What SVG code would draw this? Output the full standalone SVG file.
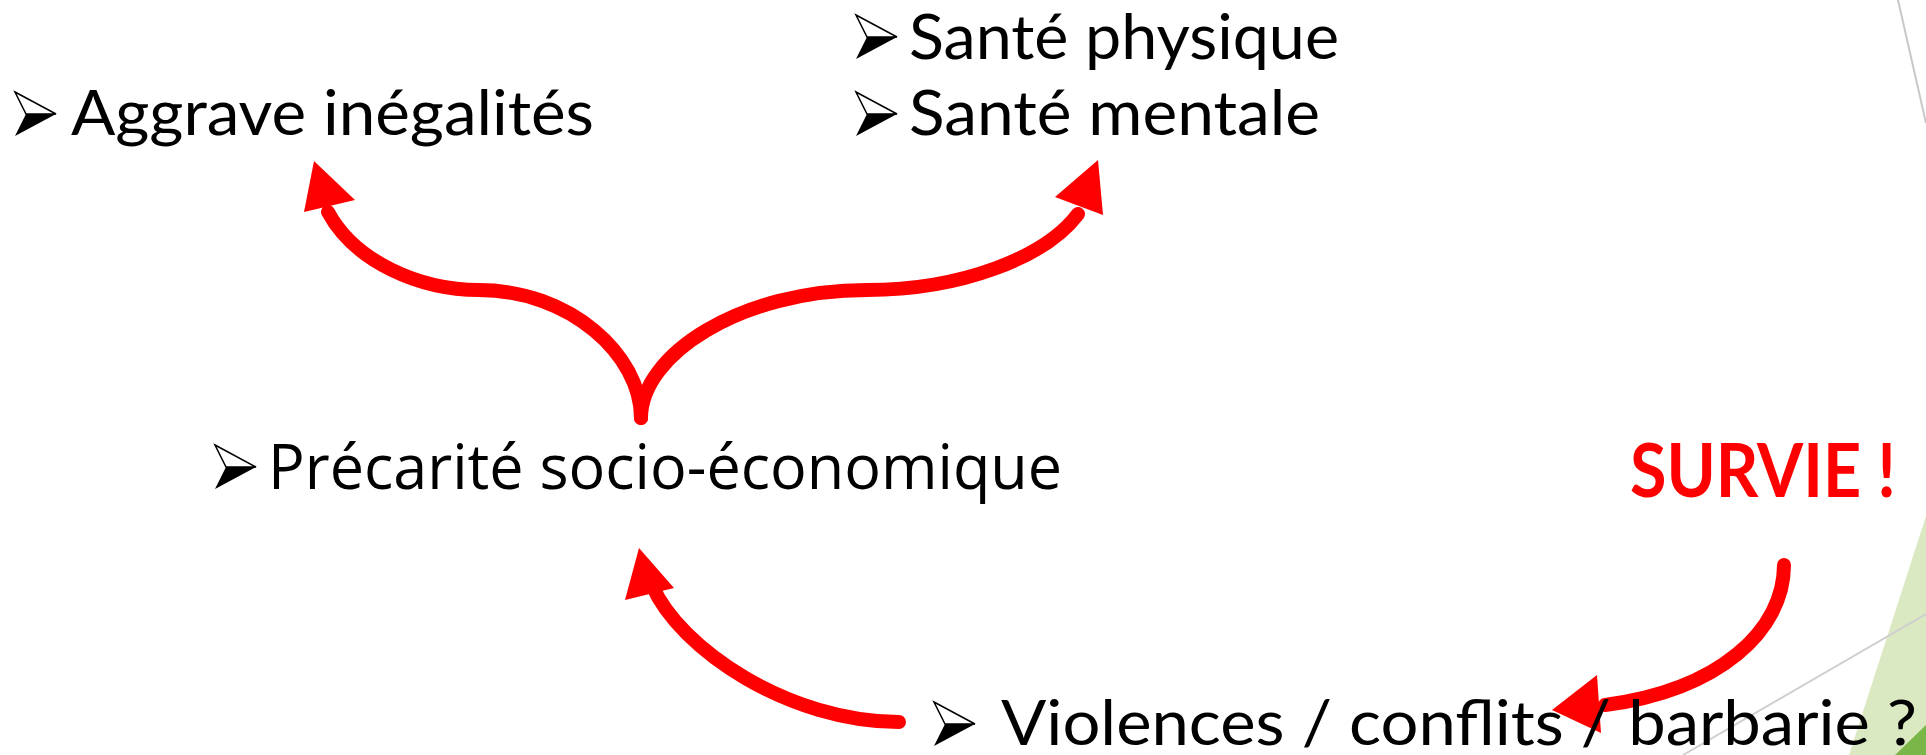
<svg xmlns="http://www.w3.org/2000/svg" xmlns:xlink="http://www.w3.org/1999/xlink" width="1926" height="755" viewBox="0 0 1926 755">
<style>
.t{font-family:"Lato","Open Sans",sans-serif;font-size:62px;fill:#000}
.t2{font-family:"Open Sans","Noto Sans",sans-serif;font-size:62px;fill:#000}
.sv{font-family:"Lato","Open Sans",sans-serif;font-size:74px;font-weight:bold;fill:#ff0000}
.c{fill:none;stroke:#ff0000;stroke-width:14;stroke-linecap:round}
.h{fill:#ff0000}
</style>
<defs>
<g id="bul">
<polygon points="0,0 41,22 11,22" fill="#fff" stroke="#000" stroke-width="1.5"/>
<polygon points="11,22 41,22 0,44" fill="#000"/>
</g>
</defs>
<rect width="1926" height="755" fill="#fff"/>
<g id="background">
<line x1="1898" y1="0" x2="1926" y2="123" stroke="#c8c8c8" stroke-width="2"/>
<polygon points="1926,516 1849,755 1926,755" fill="#dbe9c2"/>
<line x1="1683" y1="755" x2="1926" y2="614" stroke="#cfcfcf" stroke-width="2"/>
<polygon points="1926,725 1895,755 1926,755" fill="#7ab648"/>
</g>
<g id="connectors">
<path class="c" d="M641,418 C641,355 570,290 479,290 C420,290 355,262 328,212"/>
<polygon class="h" points="314,161 304,212 355,200"/>
<path class="c" d="M641,418 C641,355 740,290 867,290 C960,290 1045,258 1078,214"/>
<polygon class="h" points="1098,160 1055,197 1103,215"/>
<path class="c" d="M899,722 C790,722 680,650 652,585"/>
<polygon class="h" points="639,548 625,600 674,588"/>
<path class="c" d="M1784,565 C1784,630 1720,690 1605,705"/>
<polygon class="h" points="1552,710 1597,675 1601,733"/>
</g>
<g id="node-aggrave">
<use xlink:href="#bul" x="15" y="92"/>
<text class="t" x="71" y="135" textLength="523" lengthAdjust="spacingAndGlyphs">Aggrave inégalités</text>
</g>
<g id="node-sante">
<use xlink:href="#bul" x="856" y="15"/>
<text class="t" x="909" y="59" textLength="430" lengthAdjust="spacingAndGlyphs">Santé physique</text>
<use xlink:href="#bul" x="856" y="92"/>
<text class="t" x="909" y="135" textLength="411" lengthAdjust="spacingAndGlyphs">Santé mentale</text>
</g>
<g id="node-precarite">
<use xlink:href="#bul" x="215" y="445"/>
<text class="t2" x="268" y="489" textLength="794" lengthAdjust="spacingAndGlyphs">Précarité socio-économique</text>
</g>
<g id="node-survie">
<text class="sv" x="1630" y="497" textLength="266" lengthAdjust="spacingAndGlyphs">SURVIE !</text>
</g>
<g id="node-violences">
<use xlink:href="#bul" x="934" y="702"/>
<text class="t" x="1001" y="745" textLength="916" lengthAdjust="spacingAndGlyphs">Violences / conflits / barbarie ?</text>
</g>
</svg>
